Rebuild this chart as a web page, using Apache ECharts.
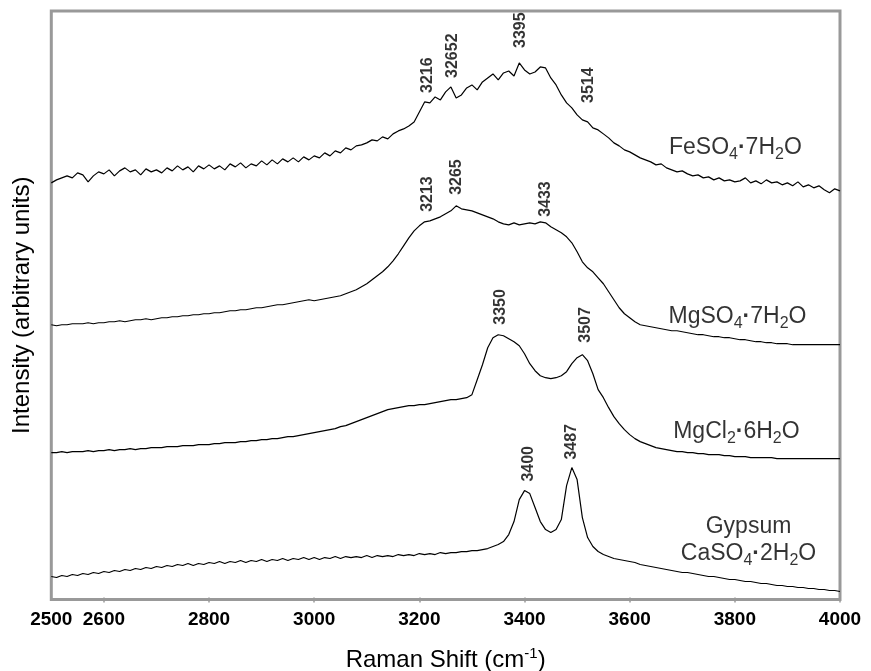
<!DOCTYPE html>
<html><head><meta charset="utf-8">
<script src="https://cdn.jsdelivr.net/npm/echarts@6/dist/echarts.min.js"></script>
<style>html,body{margin:0;padding:0;background:#fff}#c{width:871px;height:671px}</style>
</head><body><div id="c"></div><script>
const ramanShift=[
2500,2510,2520,2530,2540,2550,2560,2570,2580,2590,
2600,2610,2620,2630,2640,2650,2660,2670,2680,2690,
2700,2710,2720,2730,2740,2750,2760,2770,2780,2790,
2800,2810,2820,2830,2840,2850,2860,2870,2880,2890,
2900,2910,2920,2930,2940,2950,2960,2970,2980,2990,
3000,3010,3020,3030,3040,3050,3060,3070,3080,3090,
3100,3110,3120,3130,3140,3150,3160,3170,3180,3190,
3200,3210,3220,3230,3240,3250,3260,3270,3280,3290,
3300,3310,3320,3330,3340,3350,3360,3370,3380,3390,
3400,3410,3420,3430,3440,3450,3460,3470,3480,3490,
3500,3510,3520,3530,3540,3550,3560,3570,3580,3590,
3600,3610,3620,3630,3640,3650,3660,3670,3680,3690,
3700,3710,3720,3730,3740,3750,3760,3770,3780,3790,
3800,3810,3820,3830,3840,3850,3860,3870,3880,3890,
3900,3910,3920,3930,3940,3950,3960,3970,3980,3990,
4000];
const feso4=[
415,418,420,422,420,425,423,416,422,426,
424,428,422,427,430,426,428,423,429,426,
428,425,430,427,432,428,431,426,432,429,
433,429,432,428,434,431,435,430,434,432,
437,433,438,434,439,436,440,436,441,438,
442,440,445,442,447,445,450,448,452,453,
455,458,457,461,459,464,467,469,472,476,
486,496,495,501,498,506,511,500,503,510,
513,508,516,520,524,518,525,527,522,535,
528,524,526,531,530,520,513,503,495,490,
483,478,476,470,468,464,460,455,452,448,
446,443,440,438,436,433,434,430,428,426,
427,424,422,423,420,421,418,420,417,418,
416,417,420,415,417,414,418,415,416,413,
415,412,416,411,413,410,412,408,405,409,
407];
const mgso4=[
273,272,273,273,274,274,274,275,274,275,
275,276,276,277,276,277,278,278,279,278,
279,280,280,281,281,282,282,283,283,284,
284,285,285,286,287,287,288,288,289,290,
290,291,292,293,293,294,295,296,297,298,
297,298,299,300,301,302,304,306,308,311,
314,318,322,326,331,337,344,352,360,367,
372,376,377,379,381,384,387,392,389,388,
387,385,383,381,379,376,374,373,375,373,
374,375,374,376,375,371,368,365,361,355,
346,336,330,326,320,314,306,298,290,284,
280,276,273,272,271,270,269,268,267,267,
266,265,264,263,263,262,261,261,260,260,
259,258,258,257,256,256,255,255,254,254,
254,253,253,253,253,253,253,253,253,253,
253];
const mgcl2=[
145,145,146,145,146,146,146,147,146,147,
147,148,147,148,148,149,148,149,149,150,
150,150,151,151,151,152,152,152,153,153,
153,154,154,155,155,155,156,156,157,157,
158,158,159,159,160,161,161,162,163,164,
165,166,167,168,169,171,172,174,176,178,
180,182,184,186,188,189,190,191,192,192,
193,193,194,195,196,197,198,198,199,200,
203,218,233,250,260,263,262,259,256,252,
244,234,227,222,220,219,220,222,226,234,
240,243,237,224,208,200,190,181,174,168,
163,159,156,154,152,150,149,148,147,146,
146,145,145,144,144,143,143,143,142,142,
141,141,141,140,140,140,140,140,139,139,
139,139,139,139,139,139,139,139,139,139,
139];
const gypsum=[
21,20,22,21,23,22,24,23,25,24,
26,25,27,26,28,27,29,28,30,29,
31,30,32,31,33,32,34,32,34,33,
35,34,36,34,36,35,37,35,37,36,
38,36,38,37,39,37,39,38,40,38,
40,38,40,39,41,39,41,40,41,40,
42,40,42,41,42,41,43,42,43,42,
44,43,44,43,45,44,45,45,46,46,
47,47,48,49,51,53,56,63,76,98,
107,104,90,76,68,65,68,78,112,130,
118,80,60,51,46,43,41,39,38,37,
36,35,33,32,31,30,29,28,27,26,
25,25,24,23,22,21,21,20,19,18,
18,17,16,16,15,14,14,13,12,12,
11,11,10,10,9,9,8,8,7,7,
6];
const xLabelValues=[2500,2600,2800,3000,3200,3400,3600,3800,4000];
const xTickValues=[2600,2800,3000,3200,3400,3600,3800,4000];
const peakShifts=[3216,3264,3393,3521,3216,3270,3441,3355,3517,3407,3489];
const peakTexts=['3216','32652','3395','3514','3213','3265','3433','3350','3507','3400','3487'];
const peakLabelBase=[505,520,550,495,386,403,381,273,255,116,138];
const compoundNames=[
 '{n|FeSO}{s|4}{d|·}{n|7H}{s|2}{n|O}',
 '{n|MgSO}{s|4}{d|·}{n|7H}{s|2}{n|O}',
 '{n|MgCl}{s|2}{d|·}{n|6H}{s|2}{n|O}',
 '{n|Gypsum}\n{n|CaSO}{s|4}{d|·}{n|2H}{s|2}{n|O}'];
const compoundShift=[3801,3805,3803,3826];
const compoundLevel=[450,281,166,57];

const FONT='"Liberation Sans", Arial, sans-serif';
function pairs(v){return ramanShift.map((x,i)=>[x,v[i]]);}
const lineSeries=[feso4,mgso4,mgcl2,gypsum].map(v=>({
  type:'line',data:pairs(v),showSymbol:false,symbol:'none',silent:true,
  lineStyle:{color:'#000',width:1.2},z:3
}));
const chart=echarts.init(document.getElementById('c'),null,{renderer:'canvas'});
chart.setOption({
  animation:false,
  backgroundColor:'#fff',
  grid:{left:51.3,right:31,top:11,bottom:71.5,show:true,borderColor:'#999',borderWidth:3,outerBoundsMode:'none',containLabel:false},
  xAxis:{type:'value',min:2500,max:4000,
    axisLine:{show:false},
    splitLine:{show:false},
    axisTick:{show:true,customValues:xTickValues,length:5,lineStyle:{color:'#999',width:1.5}},
    axisLabel:{customValues:xLabelValues,formatter:v=>String(v),margin:11,fontSize:19,fontWeight:'bold',color:'#000',fontFamily:FONT},
    name:'Raman Shift (cm{sup|-1})',nameLocation:'middle',nameGap:47,
    nameTextStyle:{fontSize:24,color:'#000',fontFamily:FONT,rich:{sup:{fontSize:15,padding:[0,0,12,0],color:'#000',fontFamily:FONT}}}
  },
  yAxis:{type:'value',min:-2,max:587,axisLine:{show:false},axisTick:{show:false},axisLabel:{show:false},splitLine:{show:false},
    name:'Intensity (arbitrary units)',nameLocation:'middle',nameGap:17,
    nameTextStyle:{fontSize:24,color:'#000',fontFamily:FONT}},
  series:[...lineSeries,
    {type:'scatter',symbolSize:1,itemStyle:{color:'rgba(0,0,0,0)'},silent:true,z:5,
     data:peakShifts.map((x,i)=>({value:[x,peakLabelBase[i]],name:peakTexts[i]})),
     label:{show:true,position:'inside',rotate:90,align:'left',verticalAlign:'middle',
       formatter:p=>p.name,fontSize:16,fontWeight:'bold',color:'#000',fontFamily:FONT}},
    {type:'scatter',symbolSize:1,itemStyle:{color:'rgba(0,0,0,0)'},silent:true,z:5,
     data:compoundShift.map((x,i)=>({value:[x,compoundLevel[i]],name:compoundNames[i]})),
     label:{show:true,position:'inside',align:'center',verticalAlign:'middle',formatter:p=>p.name,
       rich:{
        n:{fontSize:23,lineHeight:27,color:'#000',fontFamily:FONT},
        d:{fontSize:23,lineHeight:27,fontWeight:'bold',color:'#000',fontFamily:FONT},
        s:{fontSize:16,lineHeight:27,padding:[14,0,0,0],color:'#000',fontFamily:FONT}
       }}}
  ]
});
</script></body></html>
